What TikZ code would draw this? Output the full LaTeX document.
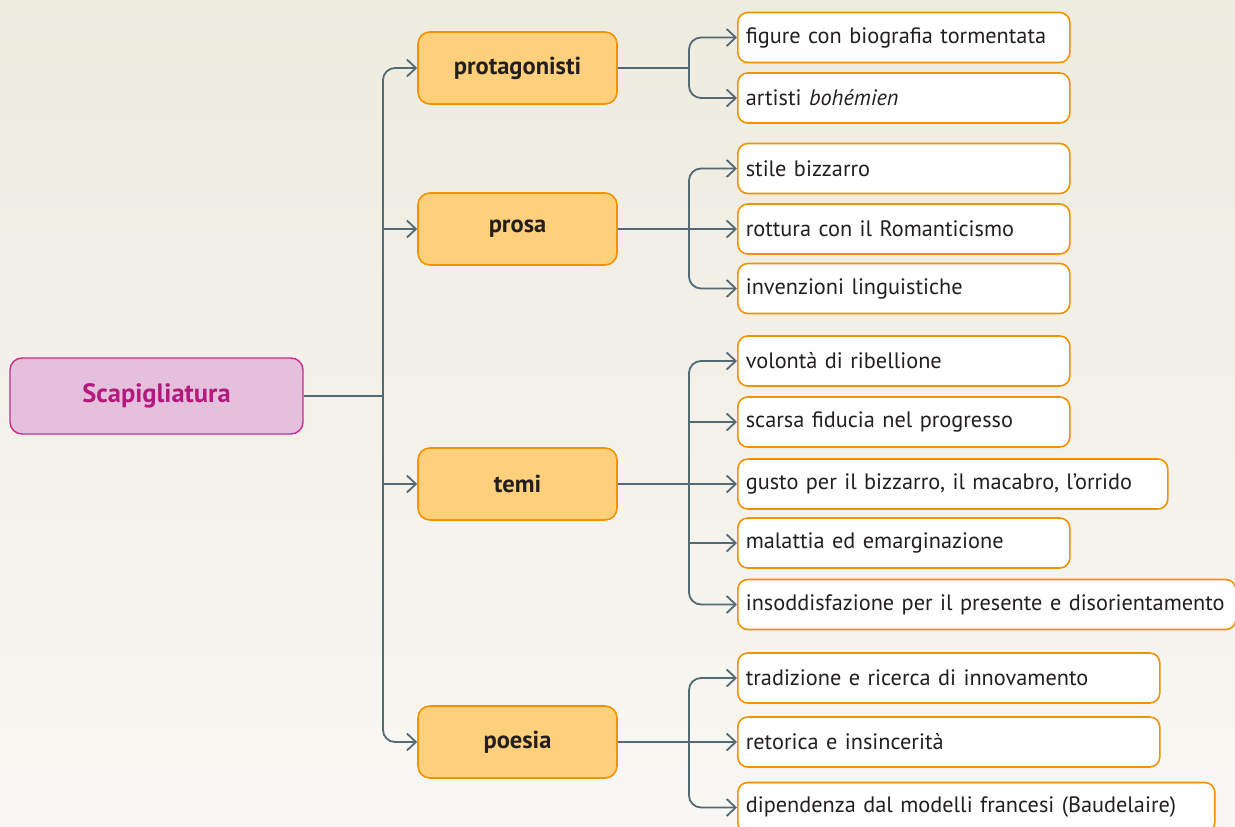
\documentclass[tikz,border=0pt]{standalone}
\usepackage{fontspec}
\setmainfont{PT Sans}
\usetikzlibrary{arrows.meta}

\definecolor{bgtop}{HTML}{EEEBDF}
\definecolor{bgbot}{HTML}{F8F7F3}
\definecolor{linkc}{HTML}{536A74}
\definecolor{orangeline}{HTML}{F39200}
\definecolor{orangefill}{HTML}{FFD07B}
\definecolor{rootfill}{HTML}{E5C0DD}
\definecolor{rootline}{HTML}{C62C8E}
\definecolor{roottext}{HTML}{B3197E}
\definecolor{ink}{HTML}{231F20}

\tikzset{
  rootbox/.style={draw=rootline, fill=rootfill, line width=1.4pt, rounded corners=12pt,
    minimum width=293pt, minimum height=76pt, inner sep=0pt,
    text=roottext, font=\fontsize{26.5}{30}\selectfont\bfseries},
  topicbox/.style={draw=orangeline, fill=orangefill, line width=1.6pt, rounded corners=12pt,
    minimum width=199pt, minimum height=72pt, inner sep=0pt,
    text=ink, font=\fontsize{24.5}{28}\selectfont\bfseries},
  leafbox/.style={draw=orangeline, fill=white, line width=1.6pt, rounded corners=10pt,
    minimum height=50pt, inner xsep=8pt, inner ysep=0pt, anchor=west, align=left,
    text=ink, font=\fontsize{22.3}{26}\selectfont},
  link/.style={draw=linkc, line width=1.8pt},
  arr/.style={link, -{Straight Barb[length=9pt,width=17pt,line width=1.8pt]}},
  elbow/.style={arr, rounded corners=12pt}
}

\begin{document}
\begin{tikzpicture}[x=1pt,y=-1pt]
  % backdrop
  \useasboundingbox (0,0) rectangle (1235,827);
  \shade[top color=bgtop, bottom color=bgbot] (0,0) rectangle (1235,827);

  % root and topics
  \node[rootbox] (root) at (156.5,396) {Scapigliatura};
  \node[topicbox] (prot) at (517.5,68) {protagonisti};
  \node[topicbox] (pros) at (517.5,229) {prosa};
  \node[topicbox] (temi) at (517.5,484) {temi};
  \node[topicbox] (poes) at (517.5,742) {poesia};

  % leaves: protagonisti
  \node[leafbox, text width=316pt] (p1) at (737,37.5) {figure con biografia tormentata};
  \node[leafbox, text width=316pt] (p2) at (737,98) {artisti \textit{bohémien}};
  % leaves: prosa
  \node[leafbox, text width=316pt] (r1) at (737,168.5) {stile bizzarro};
  \node[leafbox, text width=316pt] (r2) at (737,229) {rottura con il Romanticismo};
  \node[leafbox, text width=316pt] (r3) at (737,288.5) {invenzioni linguistiche};
  % leaves: temi
  \node[leafbox, text width=316pt] (t1) at (737,361) {volontà di ribellione};
  \node[leafbox, text width=316pt] (t2) at (737,422) {scarsa fiducia nel progresso};
  \node[leafbox, text width=414pt] (t3) at (737,484) {gusto per il bizzarro, il macabro, l’orrido};
  \node[leafbox, text width=316pt] (t4) at (737,543) {malattia ed emarginazione};
  \node[leafbox, text width=482pt] (t5) at (737,604.5) {insoddisfazione per il presente e disorientamento};
  % leaves: poesia
  \node[leafbox, text width=406pt] (q1) at (737,678) {tradizione e ricerca di innovamento};
  \node[leafbox, text width=406pt] (q2) at (737,742) {retorica e insincerità};
  \node[leafbox, text width=461pt] (q3) at (737,807.5) {dipendenza dal modelli francesi (Baudelaire)};

  % trunk from the root
  \coordinate (tj) at (383,396);
  \draw[link] (root.east) -- (tj);
  \draw[elbow] (tj) |- (prot.west);
  \draw[elbow] (tj) |- (poes.west);
  \draw[arr] (tj |- pros.west) -- (pros.west);
  \draw[arr] (tj |- temi.west) -- (temi.west);

  % protagonisti branch
  \coordinate (bp) at (689,68);
  \draw[link] (prot.east) -- (bp);
  \draw[elbow] (bp) |- (p1.west);
  \draw[elbow] (bp) |- (p2.west);

  % prosa branch
  \coordinate (br) at (689,229);
  \draw[arr] (pros.east) -- (r2.west);
  \draw[elbow] (br) |- (r1.west);
  \draw[elbow] (br) |- (r3.west);

  % temi branch
  \coordinate (bt) at (689,484);
  \draw[arr] (temi.east) -- (t3.west);
  \draw[elbow] (bt) |- (t1.west);
  \draw[elbow] (bt) |- (t5.west);
  \draw[arr] (bt |- t2.west) -- (t2.west);
  \draw[arr] (bt |- t4.west) -- (t4.west);

  % poesia branch
  \coordinate (bq) at (689,742);
  \draw[arr] (poes.east) -- (q2.west);
  \draw[elbow] (bq) |- (q1.west);
  \draw[elbow] (bq) |- (q3.west);
\end{tikzpicture}
\end{document}
